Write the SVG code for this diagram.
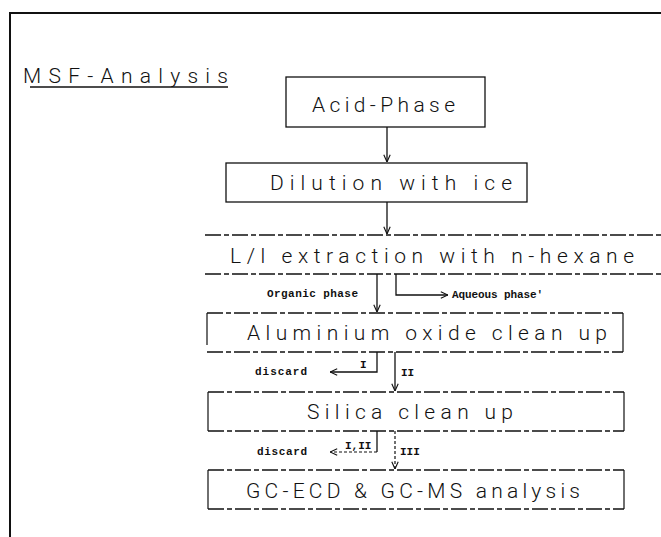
<svg xmlns="http://www.w3.org/2000/svg" width="661" height="537" viewBox="0 0 661 537">
<style>
.big{font-family:Roboto,"Liberation Sans",Arial,sans-serif;font-weight:300;font-size:21px;fill:#111;}
.sm{font-family:"Liberation Mono","Courier New",monospace;font-size:11px;font-weight:bold;fill:#111;}
.box{fill:none;stroke:#111;stroke-width:1.3;}
.dd{fill:none;stroke:#111;stroke-width:1.3;stroke-dasharray:16 3 5 3;}
.sd{fill:none;stroke:#111;stroke-width:1.2;}
.ln{fill:none;stroke:#111;stroke-width:1.3;}
.dl{fill:none;stroke:#111;stroke-width:1.2;stroke-dasharray:3 2;}
</style>
<defs>
<marker id="ah" viewBox="0 0 10 10" refX="10" refY="5" markerWidth="8" markerHeight="8" orient="auto" markerUnits="userSpaceOnUse">
<path d="M1,1 L10,5 L1,9" fill="none" stroke="#111" stroke-width="1.4"/>
</marker>
</defs>
<rect width="661" height="537" fill="#fff"/>
<g id="frame">
<path d="M10,537 V13 H661" fill="none" stroke="#111" stroke-width="2"/>
</g>
<g id="title">
<text class="big" x="23" y="83" font-size="22" textLength="205" lengthAdjust="spacing">MSF-Analysis</text>
<line x1="30" y1="87" x2="228" y2="87" stroke="#111" stroke-width="1.3"/>
</g>
<g id="acid">
<rect class="box" x="286" y="77" width="199" height="50" stroke-width="1.6"/>
<text class="big" x="312" y="112" font-size="23" textLength="143" lengthAdjust="spacing">Acid-Phase</text>
</g>
<g id="dilution">
<rect class="box" x="226" y="163" width="301" height="39" stroke-width="2.4"/>
<text class="big" x="270" y="190" textLength="242" lengthAdjust="spacing">Dilution with ice</text>
</g>
<g id="extraction">
<line class="dd" x1="205" y1="235" x2="661" y2="235"/>
<line class="dd" x1="205" y1="274" x2="661" y2="274"/>
<text class="big" x="230" y="263" textLength="404" lengthAdjust="spacing">L/l extraction with n-hexane</text>
</g>
<g id="aluminium">
<path class="dd" d="M207,313 H623 M207,352 H623"/>
<path class="sd" d="M207,313 V345 M623,313 V352"/>
<text class="big" x="247" y="340" textLength="360" lengthAdjust="spacing">Aluminium oxide clean up</text>
</g>
<g id="silica">
<path class="dd" d="M208,392 H624 M208,431 H624"/>
<path class="sd" d="M208,392 V431 M624,392 V431"/>
<text class="big" x="307" y="419" textLength="206" lengthAdjust="spacing">Silica clean up</text>
</g>
<g id="gc">
<path class="dd" d="M208,470 H624 M208,509 H624"/>
<path class="sd" d="M208,470 V509 M624,470 V509"/>
<text class="big" x="246" y="498" textLength="334" lengthAdjust="spacing">GC-ECD &amp; GC-MS analysis</text>
</g>
<g id="connectors">
<line class="ln" x1="387" y1="127" x2="387" y2="162" marker-end="url(#ah)"/>
<line class="ln" x1="387" y1="202" x2="387" y2="234" marker-end="url(#ah)"/>
<line class="ln" x1="377" y1="274" x2="377" y2="312" marker-end="url(#ah)"/>
<polyline class="ln" points="396,274 396,295 448,295" marker-end="url(#ah)"/>
<polyline class="ln" points="377,352 377,372 330,372" marker-end="url(#ah)"/>
<line class="ln" x1="395" y1="352" x2="395" y2="391" marker-end="url(#ah)"/>
<line class="ln" x1="377" y1="431" x2="377" y2="452"/>
<line class="dl" x1="377" y1="452" x2="330" y2="452" marker-end="url(#ah)"/>
<line class="dl" x1="395" y1="431" x2="395" y2="469" marker-end="url(#ah)"/>
</g>
<g id="labels">
<text class="sm" x="267" y="297" textLength="91" lengthAdjust="spacing">Organic phase</text>
<text class="sm" x="452" y="298" textLength="91" lengthAdjust="spacing">Aqueous phase'</text>
<text class="sm" x="255" y="375" textLength="52" lengthAdjust="spacing">discard</text>
<text class="sm" x="360" y="368">I</text>
<text class="sm" x="401" y="376">II</text>
<text class="sm" x="257" y="455" textLength="50" lengthAdjust="spacing">discard</text>
<text class="sm" x="345" y="449">I,II</text>
<text class="sm" x="400" y="455">III</text>
</g>
</svg>
